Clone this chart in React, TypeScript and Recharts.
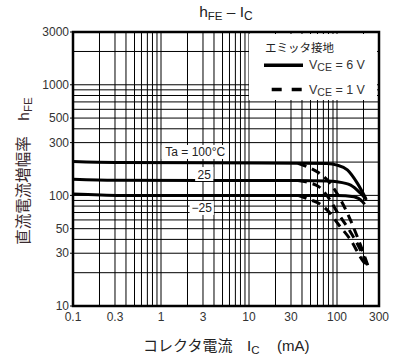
import React from "react";
import {
  LineChart,
  Line,
  XAxis,
  YAxis,
  ReferenceLine,
  ReferenceArea,
  ReferenceDot,
  Legend,
} from "recharts";

// tick labels
const xTicks = [0.1, 0.3, 1, 3, 10, 30, 100, 300];
const yTicks = [10, 30, 50, 100, 300, 500, 1000, 3000];

// log grid lines (inner)
const xGrid = [
  0.2, 0.3, 0.4, 0.5, 0.6, 0.7, 0.8, 0.9, 1, 2, 3, 4, 5, 6, 7, 8, 9, 10, 20,
  30, 40, 50, 60, 70, 80, 90, 100, 200,
];
const yGrid = [
  20, 30, 40, 50, 60, 70, 80, 90, 100, 200, 300, 400, 500, 600, 700, 800, 900,
  1000, 2000,
];

// VCE = 6 V (solid)
const ta100Vce6 = [
  { ic: 0.1, hfe: 202 },
  { ic: 0.3, hfe: 198 },
  { ic: 3, hfe: 197 },
  { ic: 36, hfe: 195 },
  { ic: 77, hfe: 194 },
  { ic: 100, hfe: 188 },
  { ic: 131, hfe: 170 },
  { ic: 170, hfe: 129 },
  { ic: 212, hfe: 94 },
];
const ta25Vce6 = [
  { ic: 0.1, hfe: 140 },
  { ic: 0.3, hfe: 137 },
  { ic: 3, hfe: 136 },
  { ic: 36, hfe: 136 },
  { ic: 80, hfe: 135 },
  { ic: 100, hfe: 133 },
  { ic: 143, hfe: 124 },
  { ic: 186, hfe: 104 },
  { ic: 217, hfe: 91 },
];
const taM25Vce6 = [
  { ic: 0.1, hfe: 103 },
  { ic: 0.35, hfe: 100 },
  { ic: 3, hfe: 100 },
  { ic: 36, hfe: 100 },
  { ic: 100, hfe: 100 },
  { ic: 156, hfe: 97 },
  { ic: 194, hfe: 88 },
  { ic: 206, hfe: 83 },
];

// VCE = 1 V (dashed)
const ta100Vce1 = [
  { ic: 36, hfe: 195 },
  { ic: 50, hfe: 176 },
  { ic: 62, hfe: 160 },
  { ic: 81, hfe: 133 },
  { ic: 100, hfe: 104 },
  { ic: 130, hfe: 70 },
  { ic: 163, hfe: 46 },
  { ic: 194, hfe: 32 },
  { ic: 225, hfe: 23 },
];
const ta25Vce1 = [
  { ic: 36, hfe: 136 },
  { ic: 50, hfe: 129 },
  { ic: 62, hfe: 120 },
  { ic: 81, hfe: 94 },
  { ic: 100, hfe: 71 },
  { ic: 137, hfe: 49 },
  { ic: 185, hfe: 32 },
  { ic: 220, hfe: 23.5 },
];
const taM25Vce1 = [
  { ic: 36, hfe: 100 },
  { ic: 50, hfe: 91 },
  { ic: 62, hfe: 85 },
  { ic: 77, hfe: 74 },
  { ic: 105, hfe: 54 },
  { ic: 143, hfe: 39.5 },
  { ic: 194, hfe: 26 },
  { ic: 218, hfe: 23 },
];

const LATIN = '"Liberation Sans", Arial, sans-serif';
const CJK = '"Noto Sans CJK JP", "Liberation Sans", sans-serif';

function TagLabel(props: any) {
  const { viewBox, text } = props;
  const cx = viewBox.x + (viewBox.width || 0) / 2;
  const cy = viewBox.y + (viewBox.height || 0) / 2;
  const w = text.length * 6.1 + 6;
  return (
    <g>
      <rect x={cx - w / 2} y={cy - 7} width={w} height={14} fill="#fff" />
      <text
        x={cx}
        y={cy + 4.5}
        textAnchor="middle"
        fontSize={12}
        fontFamily={LATIN}
        fill="#222"
      >
        {text}
      </text>
    </g>
  );
}

function LegendBox() {
  return (
    <svg width={128} height={66} style={{ display: "block", background: "#fff" }}>
      <text x={16} y={17.5} fontSize={11.5} fontFamily={CJK} fill="#222">
        エミッタ接地
      </text>
      <line x1={15} x2={54} y1={31.2} y2={31.2} stroke="#000" strokeWidth={3.5} />
      <text x={60} y={34.8} fontSize={12.5} fontFamily={LATIN} fill="#333">
        V
        <tspan fontSize={10.5} dy={2}>CE</tspan>
        <tspan dy={-2}> = 6 V</tspan>
      </text>
      <line
        x1={22.7}
        x2={53.7}
        y1={55.5}
        y2={55.5}
        stroke="#000"
        strokeWidth={3.5}
        strokeDasharray="10 10"
      />
      <text x={60} y={59.8} fontSize={12.5} fontFamily={LATIN} fill="#333">
        V
        <tspan fontSize={10.5} dy={2}>CE</tspan>
        <tspan dy={-2}> = 1 V</tspan>
      </text>
    </svg>
  );
}

function XLabel() {
  return (
    <text y={351} fontSize={15} fill="#222">
      <tspan x={143} fontFamily={CJK}>コレクタ電流</tspan>
      <tspan x={247} fontFamily={LATIN}>I</tspan>
      <tspan fontFamily={LATIN} fontSize={11.5} dy={3}>C</tspan>
      <tspan x={277} dy={-3} fontFamily={LATIN}>(mA)</tspan>
    </text>
  );
}

function YLabel() {
  return (
    <text
      transform="translate(29,171) rotate(-90)"
      textAnchor="middle"
      fontSize={15.5}
      fill="#3a2a2e"
    >
      <tspan fontFamily={CJK}>直流電流増幅率　</tspan>
      <tspan fontFamily={LATIN}>h</tspan>
      <tspan fontFamily={LATIN} fontSize={11.5} dy={3}>FE</tspan>
    </text>
  );
}

export default function App() {
  const tickStyle = { fontSize: 12, fontFamily: LATIN, fill: "#333" };
  return (
    <div
      style={{
        position: "absolute",
        left: 0,
        top: 0,
        width: 414,
        height: 357,
        background: "#fff",
      }}
    >
      <div
        style={{
          position: "absolute",
          left: 0,
          top: 3,
          width: 452,
          textAlign: "center",
          fontFamily: LATIN,
          fontSize: 15.5,
          color: "#222",
          zIndex: 2,
        }}
      >
        h<sub style={{ fontSize: 11.5, verticalAlign: "-3px" }}>FE</sub> – I
        <sub style={{ fontSize: 12, verticalAlign: "-3px" }}>C</sub>
      </div>
      <LineChart
        width={414}
        height={357}
        margin={{ top: 32, right: 35, left: 0, bottom: 0 }}
      >
        <XAxis
          dataKey="ic"
          type="number"
          scale="log"
          domain={[0.1, 300]}
          allowDataOverflow
          ticks={xTicks}
          interval={0}
          height={51}
          axisLine={false}
          tickLine={false}
          tickSize={0}
          tickMargin={6}
          tick={tickStyle}
          label={{ content: <XLabel /> }}
        />
        <YAxis
          dataKey="hfe"
          type="number"
          scale="log"
          domain={[10, 3000]}
          allowDataOverflow
          ticks={yTicks}
          interval={0}
          width={73}
          axisLine={false}
          tickLine={{ stroke: "#000" }}
          tickSize={3}
          tickMargin={1}
          tick={tickStyle}
          label={{ content: <YLabel /> }}
        />
        {xGrid.map((v) => (
          <ReferenceLine key={`x${v}`} x={v} stroke="#000" strokeWidth={1} />
        ))}
        {yGrid.map((v) => (
          <ReferenceLine key={`y${v}`} y={v} stroke="#000" strokeWidth={1} />
        ))}
        <ReferenceDot x={2.45} y={247} r={0} fill="none" stroke="none" label={<TagLabel text="Ta = 100°C" />} />
        <ReferenceDot x={3.1} y={156} r={0} fill="none" stroke="none" label={<TagLabel text="25" />} />
        <ReferenceDot x={2.9} y={77} r={0} fill="none" stroke="none" label={<TagLabel text="−25" />} />
        <Line data={ta100Vce6} dataKey="hfe" type="monotone" stroke="#000" strokeWidth={3} dot={false} isAnimationActive={false} />
        <Line data={ta25Vce6} dataKey="hfe" type="monotone" stroke="#000" strokeWidth={3} dot={false} isAnimationActive={false} />
        <Line data={taM25Vce6} dataKey="hfe" type="monotone" stroke="#000" strokeWidth={3} dot={false} isAnimationActive={false} />
        <Line data={ta100Vce1} dataKey="hfe" type="monotone" stroke="#000" strokeWidth={3} strokeDasharray="9 6" dot={false} isAnimationActive={false} />
        <Line data={ta25Vce1} dataKey="hfe" type="monotone" stroke="#000" strokeWidth={3} strokeDasharray="9 6" dot={false} isAnimationActive={false} />
        <Line data={taM25Vce1} dataKey="hfe" type="monotone" stroke="#000" strokeWidth={3} strokeDasharray="9 6" dot={false} isAnimationActive={false} />
        <ReferenceArea x1={0.1} x2={300} y1={10} y2={3000} fill="none" stroke="#000" strokeWidth={2.5} />
        <Legend
          layout="horizontal"
          verticalAlign="middle"
          align="center"
          content={() => <LegendBox />}
          wrapperStyle={{ left: 249, top: 33.5, width: 128, height: 66 }}
        />
      </LineChart>
    </div>
  );
}
